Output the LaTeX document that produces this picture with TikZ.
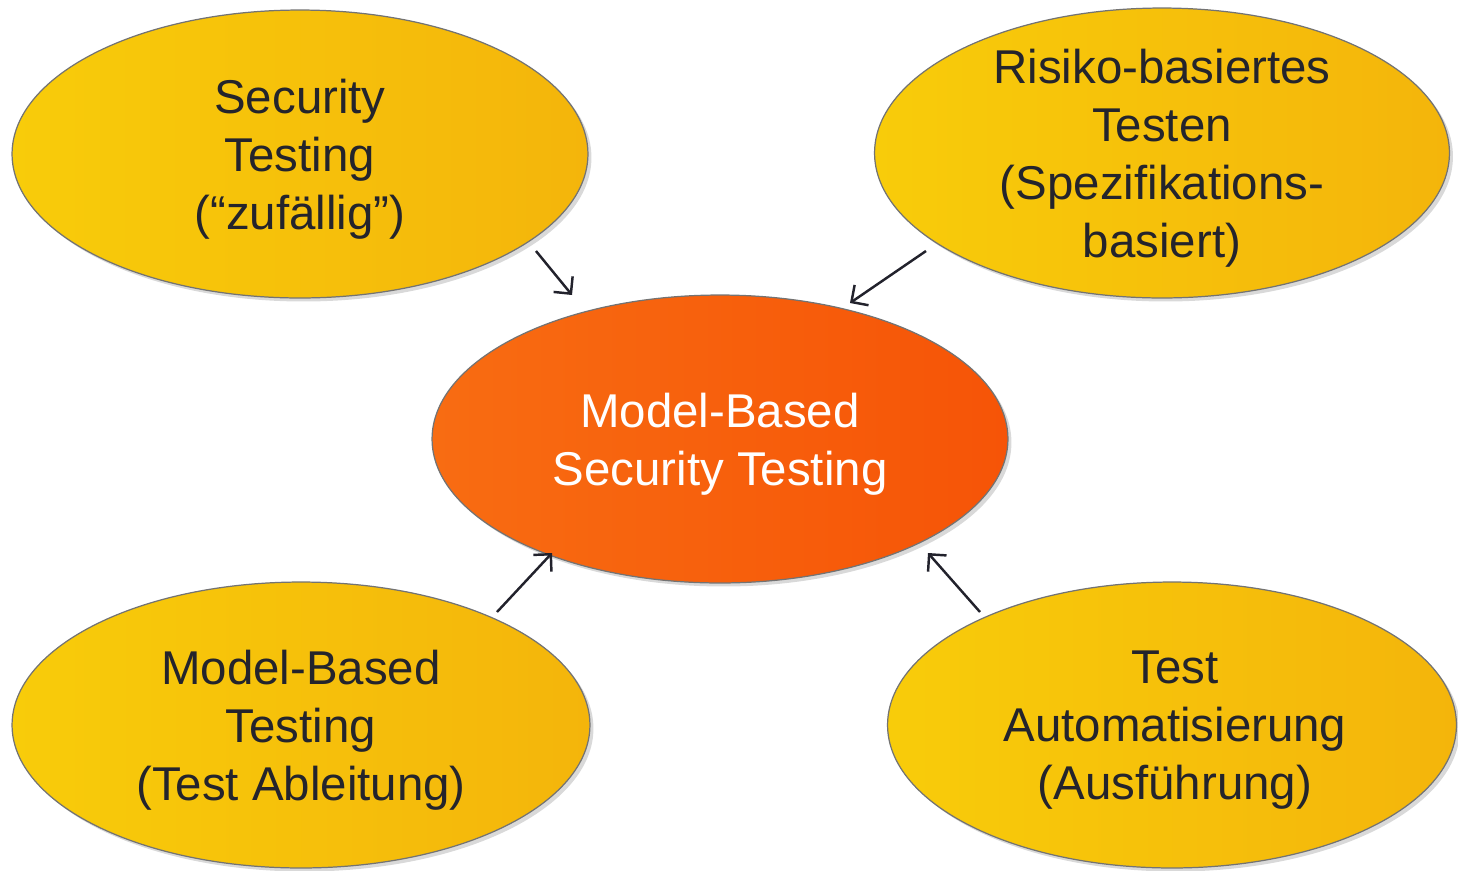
\documentclass[tikz,border=0pt]{standalone}
\usepackage{fontspec}
\setmainfont{Liberation Sans}
\usetikzlibrary{arrows.meta,shadows,shapes.geometric}
\definecolor{yelL}{HTML}{F8CC0A}
\definecolor{yelR}{HTML}{F4B50B}
\definecolor{orgL}{HTML}{F86C12}
\definecolor{orgR}{HTML}{F65407}
\definecolor{txt}{HTML}{24242C}
\definecolor{arr}{HTML}{22222C}
\tikzset{
  bubble/.style={ellipse, draw=black!55, line width=0.7pt,
    left color=yelL, right color=yelR,
    drop shadow={shadow xshift=2pt, shadow yshift=-2pt, opacity=0.3},
    inner sep=0pt},
  hub/.style={bubble, left color=orgL, right color=orgR},
  words/.style={text=txt, align=center, inner sep=0pt,
    font=\fontsize{27pt}{33pt}\selectfont},
  hubwords/.style={words, text=white},
  link/.style={draw=arr, line width=1.4pt, -{Straight Barb[length=7pt,width=14pt,line width=1.4pt]}}
}
\begin{document}
\begin{tikzpicture}[x=0.02cm,y=-0.02cm]
\useasboundingbox (0,0) rectangle (1458,870);
\node[bubble, minimum width=11.52cm, minimum height=5.76cm] (tl) at (300,154) {};
\node[bubble, minimum width=11.5cm, minimum height=5.8cm] (tr) at (1162,153) {};
\node[hub, minimum width=11.52cm, minimum height=5.76cm] (c) at (720,439) {};
\node[bubble, minimum width=11.56cm, minimum height=5.72cm] (bl) at (301,725) {};
\node[bubble, minimum width=11.38cm, minimum height=5.72cm] (br) at (1172,725) {};
\node[words] (tlT) at ([yshift=-0.1cm]tl.center) {Security\\Testing\\(“zufällig”)};
\node[words] (trT) at ([yshift=-0.1cm]tr.center) {Risiko-basiertes\\Testen\\(Spezifikations-\\basiert)};
\node[hubwords] (cT) at ([yshift=-0.1cm]c.center) {Model-Based\\Security Testing};
\node[words] (blT) at ([yshift=-0.1cm]bl.center) {Model-Based\\Testing\\(Test Ableitung)};
\node[words] (brT) at ([xshift=0.06cm,yshift=-0.1cm]br.center) {Test\\Automatisierung\\(Ausführung)};
\coordinate (a1s) at (536,251); \coordinate (a1e) at (572,295);
\coordinate (a2s) at (926,251); \coordinate (a2e) at (850,303);
\coordinate (a3s) at (497,612); \coordinate (a3e) at (552,553);
\coordinate (a4s) at (980,612); \coordinate (a4e) at (928,553);
\draw[link] (a1s) -- (a1e);
\draw[link] (a2s) -- (a2e);
\draw[link] (a3s) -- (a3e);
\draw[link] (a4s) -- (a4e);
\end{tikzpicture}
\end{document}
